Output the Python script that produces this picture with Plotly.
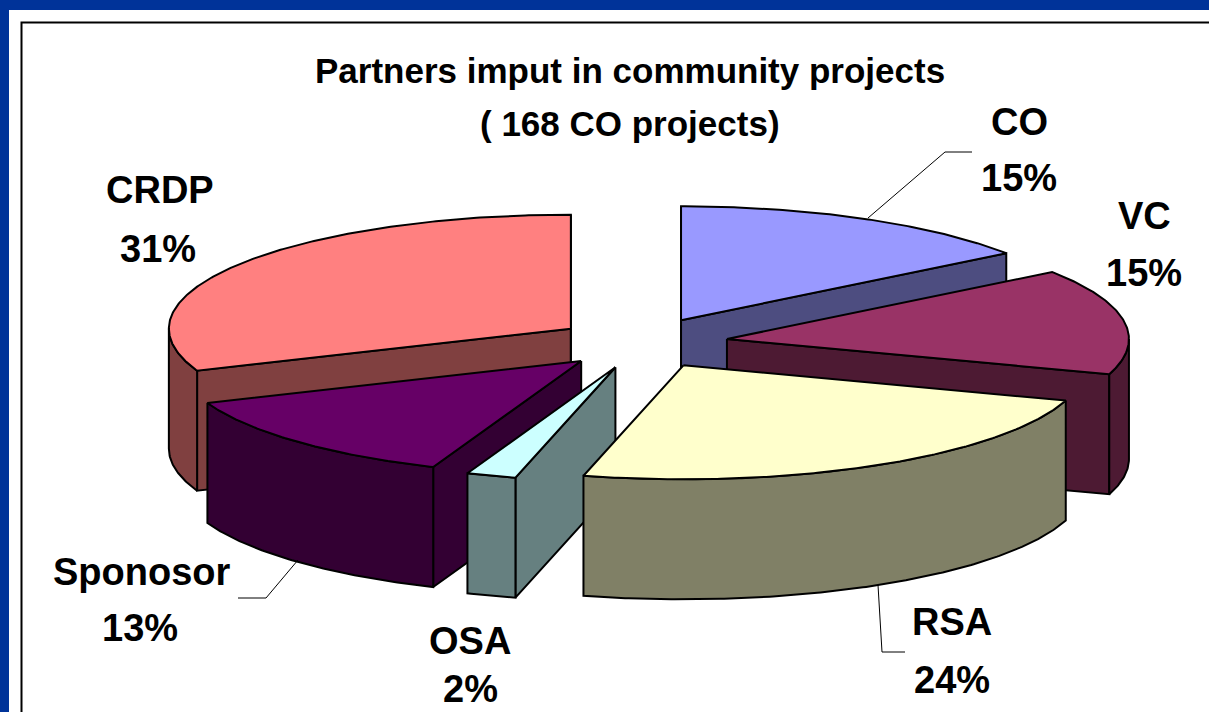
import numpy as np
import plotly.graph_objects as go

labels = ["CO", "VC", "RSA", "OSA", "Sponosor", "CRDP"]
values = [15, 15, 24, 2, 13, 31]
top_colors = ["#9999FF", "#993366", "#FFFFCC", "#CCFFFF", "#660066", "#FF8080"]
wall_colors = ["#4D4D80", "#4D1A33", "#808066", "#668080", "#330033", "#804040"]
draw_order = ["CO", "CRDP", "VC", "Sponosor", "OSA", "RSA"]

W, H = 1209, 712
CX, CY = 642, 343      # pie centre in the pixel-mapped axes
RX, RY = 402, 114      # ellipse radii of the tilted pie
DX, DY = 86, 25.5      # explosion distance
DEPTH = 120            # wall height

starts = np.cumsum([0] + values[:-1]) * 3.6
ends = np.cumsum(values) * 3.6


def pt(a, ox, oy, r=1.0):
    t = np.radians(a)
    return ox + r * RX * np.sin(t), oy - r * RY * np.cos(t)


def arc(a0, a1, ox, oy):
    ang = np.linspace(a0, a1, max(int(abs(a1 - a0) * 2), 2))
    return pt(ang, ox, oy)


fig = go.Figure()


def poly(x, y, color):
    fig.add_trace(go.Scatter(
        x=list(x) + [x[0]], y=list(y) + [y[0]], mode="lines", fill="toself",
        fillcolor=color, line=dict(color="black", width=2),
        hoverinfo="skip", showlegend=False))


for name in draw_order:
    i = labels.index(name)
    a0, a1 = float(starts[i]), float(ends[i])
    mid = np.radians((a0 + a1) / 2)
    ox = CX + DX * np.sin(mid)
    oy = CY - DY * np.cos(mid)
    # cut faces turned towards the viewer
    for edge, normal in ((a0, a0 - 90), (a1, a1 + 90)):
        if -np.cos(np.radians(normal)) > 1e-6 or (edge == 0 or edge == 360):
            ex, ey = pt(edge, ox, oy)
            poly([ox, ex, ex, ox], [oy, ey, ey + DEPTH, oy + DEPTH], wall_colors[i])
    # outer wall, front half only
    w0, w1 = max(a0, 90), min(a1, 270)
    if w1 > w0:
        ax, ay = arc(w0, w1, ox, oy)
        poly(np.r_[ax, ax[::-1]], np.r_[ay, ay[::-1] + DEPTH], wall_colors[i])
    # top face
    ax, ay = arc(a0, a1, ox, oy)
    poly(np.r_[ox, ax], np.r_[oy, ay], top_colors[i])

leaders = [
    [(868, 218), (945, 152), (972, 152)],
    [(298, 560), (266, 598), (238, 598)],
    [(878, 585), (882, 652), (905, 652)],
]
shapes = [
    dict(type="rect", xref="x", yref="y", x0=9, y0=10, x1=W + 5, y1=H + 5,
         fillcolor="white", line_width=0, layer="below"),
    dict(type="rect", xref="x", yref="y", x0=21.5, y0=22.5, x1=W + 5, y1=H + 5,
         fillcolor="white", line=dict(color="black", width=2), layer="below"),
]
for pts in leaders:
    path = "M " + " L ".join(f"{a},{b}" for a, b in pts)
    shapes.append(dict(type="path", path=path, xref="x", yref="y",
                       line=dict(color="black", width=1)))

FONT = "Liberation Sans, Arial, sans-serif"
name_pos = {"CO": (1019, 122), "VC": (1144, 216), "RSA": (952, 622),
            "OSA": (470, 641), "Sponosor": (142, 572), "CRDP": (160, 190)}
pct_pos = {"CO": (1019, 178), "VC": (1144, 273), "RSA": (952, 680),
           "OSA": (470, 689), "Sponosor": (140, 628), "CRDP": (158, 249)}
annotations = [
    dict(x=630, y=70, text="<b>Partners imput in community projects</b>", showarrow=False,
         font=dict(family=FONT, size=35, color="black")),
    dict(x=630, y=123, text="<b>( 168 CO projects)</b>", showarrow=False,
         font=dict(family=FONT, size=35, color="black")),
]
for name, v in zip(labels, values):
    for pos, txt in ((name_pos[name], name), (pct_pos[name], f"{v}%")):
        annotations.append(dict(
            x=pos[0], y=pos[1], text=f"<b>{txt}</b>", showarrow=False,
            font=dict(family=FONT, size=38, color="black")))

fig.update_layout(
    width=W, height=H, margin=dict(l=0, r=0, t=0, b=0),
    paper_bgcolor="#003399", plot_bgcolor="rgba(0,0,0,0)",
    xaxis=dict(range=[0, W], visible=False, fixedrange=True),
    yaxis=dict(range=[H, 0], visible=False, fixedrange=True),
    shapes=shapes, annotations=annotations, showlegend=False,
)
fig.write_html("out.html", config=dict(displayModeBar=False),
               post_script="document.body.style.margin='0';document.body.style.overflow='hidden';")
